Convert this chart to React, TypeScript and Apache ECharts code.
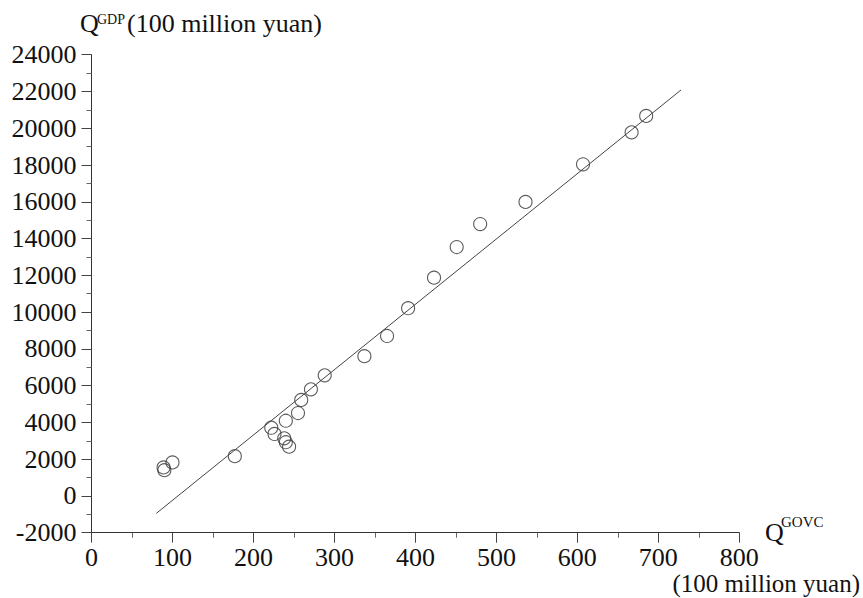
import React, { useEffect, useRef } from "react";
import * as echarts from "echarts";

const govc = [89, 90, 100, 177, 222, 226, 238, 240, 240, 244, 255, 259, 271, 288, 337, 365, 391, 423, 451, 480, 536, 607, 667, 685];
const gdp = [1550, 1400, 1820, 2160, 3710, 3370, 3135, 4090, 2920, 2680, 4510, 5220, 5800, 6560, 7600, 8700, 10210, 11870, 13540, 14790, 15990, 18040, 19780, 20670];
const fitX = [80, 728];
const fitY = [-950, 22080];

const FONT = "'Liberation Serif', 'Times New Roman', serif";

export default function App() {
  const ref = useRef<HTMLDivElement>(null);
  useEffect(() => {
    document.body.style.margin = "0";
    const chart = echarts.init(ref.current!, undefined, { renderer: "svg" });
    const points = govc.map((x, i) => [x, gdp[i]]);
    const fit = fitX.map((x, i) => [x, fitY[i]]);
    chart.setOption({
      animation: false,
      backgroundColor: "#ffffff",
      grid: { left: 91.5, right: 123.7, top: 54.7, bottom: 65.3, containLabel: false },
      xAxis: {
        type: "value",
        min: 0,
        max: 800,
        interval: 100,
        axisLine: { onZero: false, lineStyle: { color: "#333", width: 1 } },
        axisTick: { show: true, length: 10, lineStyle: { color: "#444" } },
        minorTick: { show: true, splitNumber: 2, length: 5, lineStyle: { color: "#666" } },
        splitLine: { show: false },
        axisLabel: { fontFamily: FONT, fontSize: 26, color: "#111", margin: 12, formatter: (v: number) => String(v) },
      },
      yAxis: {
        type: "value",
        min: -2000,
        max: 24000,
        interval: 2000,
        axisLine: { show: true, onZero: false, lineStyle: { color: "#333", width: 1 } },
        axisTick: { show: true, length: 10, lineStyle: { color: "#444" } },
        minorTick: { show: true, splitNumber: 2, length: 5, lineStyle: { color: "#666" } },
        splitLine: { show: false },
        axisLabel: { fontFamily: FONT, fontSize: 26, color: "#111", margin: 15, formatter: (v: number) => String(v) },
      },
      series: [
        {
          type: "line",
          data: fit,
          symbol: "none",
          lineStyle: { color: "#444", width: 1 },
          silent: true,
        },
        {
          type: "scatter",
          data: points,
          symbol: "circle",
          symbolSize: 13,
          itemStyle: { color: "rgba(0,0,0,0)", borderColor: "#333", borderWidth: 1.1 },
        },
      ],
      graphic: [
        { type: "text", left: 80, top: 10, style: { text: "Q", font: `26px ${FONT}`, fill: "#111" } },
        { type: "text", left: 97, top: 12, style: { text: "GDP", font: `14px ${FONT}`, fill: "#111" } },
        { type: "text", left: 127, top: 10, style: { text: "(100 million yuan)", font: `26px ${FONT}`, fill: "#111" } },
        { type: "text", left: 765, top: 519, style: { text: "Q", font: `26px ${FONT}`, fill: "#111" } },
        { type: "text", left: 781, top: 514, style: { text: "GOVC", font: `15px ${FONT}`, fill: "#111" } },
        { type: "text", right: 3, top: 571, style: { text: "(100 million yuan)", font: `25px ${FONT}`, fill: "#111" } },
      ],
    });
    return () => chart.dispose();
  }, []);
  return <div ref={ref} style={{ position: "absolute", left: 0, top: 0, width: 863, height: 598 }} />;
}
